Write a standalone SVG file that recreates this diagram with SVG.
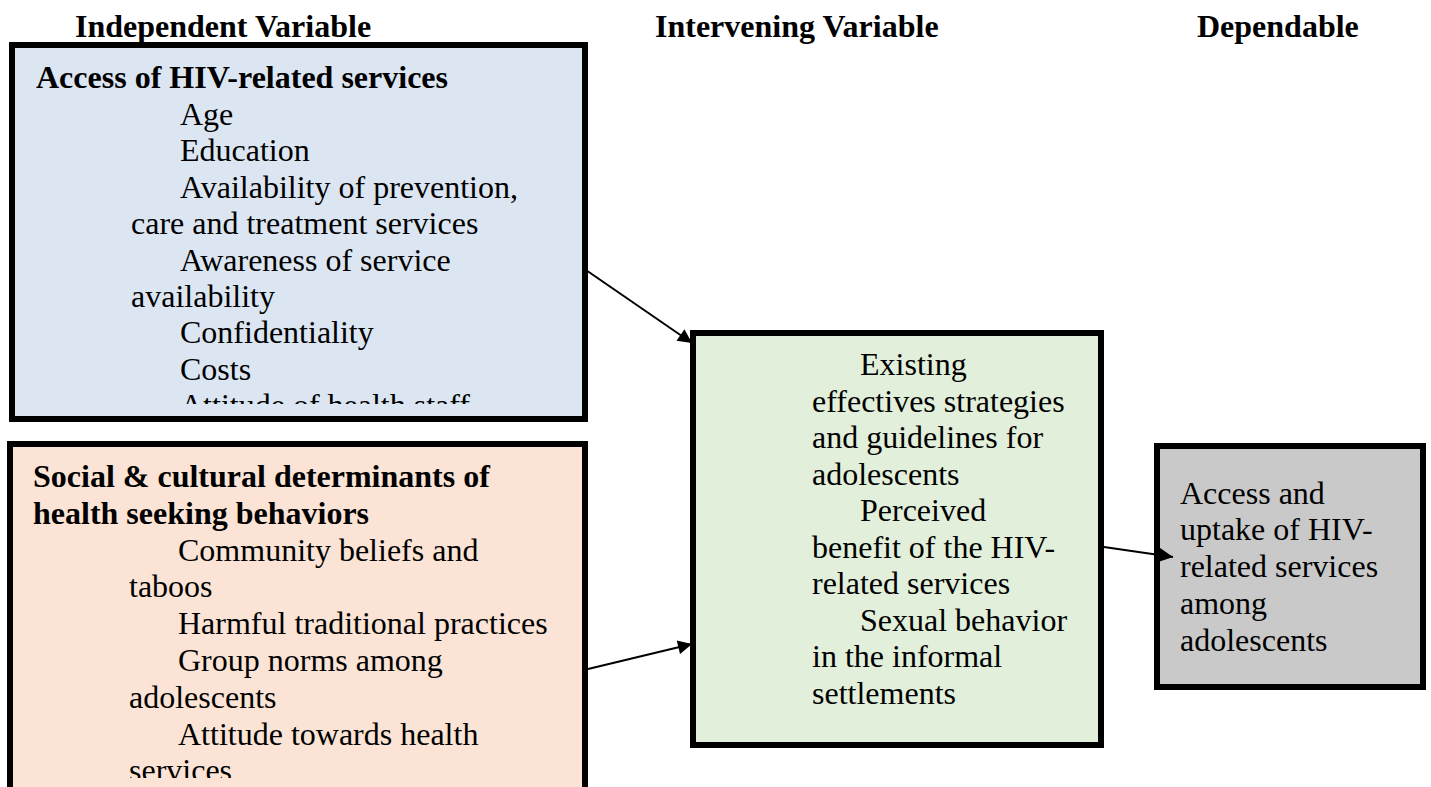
<svg xmlns="http://www.w3.org/2000/svg" width="1431" height="787" viewBox="0 0 1431 787">
  <style>
    text { font-family: "Liberation Serif", "Times New Roman", serif; font-size: 32px; fill: #000; }
    .b { font-weight: bold; }
    .box { stroke: #000; stroke-width: 6; }
    .wire { stroke: #000; stroke-width: 2; fill: none; marker-end: url(#arrow); }
  </style>
  <defs>
    <marker id="arrow" viewBox="0 0 10 10" refX="10" refY="5" markerWidth="8" markerHeight="7" markerUnits="strokeWidth" orient="auto">
      <path d="M0,0 L10,5 L0,10 z" fill="#000"/>
    </marker>
    <clipPath id="clipAccess"><rect x="15" y="48" width="567" height="356"/></clipPath>
    <clipPath id="clipSocial"><rect x="13" y="447" width="569" height="331"/></clipPath>
  </defs>

  <!-- column headings -->
  <g id="headings">
    <text class="b" x="75" y="37">Independent Variable</text>
    <text class="b" x="655" y="37">Intervening Variable</text>
    <text class="b" x="1197" y="37">Dependable</text>
  </g>

  <!-- independent variable: access -->
  <g id="access">
    <rect class="box" x="12" y="45" width="573" height="374" fill="#dce6f2"/>
    <g clip-path="url(#clipAccess)">
      <text class="b" x="36" y="88">Access of HIV-related services</text>
      <text x="180" y="125">Age</text>
      <text x="180" y="161.4">Education</text>
      <text x="180" y="197.8">Availability of prevention,</text>
      <text x="131" y="234.2">care and treatment services</text>
      <text x="180" y="270.6">Awareness of service</text>
      <text x="131" y="307">availability</text>
      <text x="180" y="343.4">Confidentiality</text>
      <text x="180" y="379.8">Costs</text>
      <text x="180" y="416.2">Attitude of health staff</text>
    </g>
  </g>

  <!-- independent variable: social and cultural -->
  <g id="social">
    <rect class="box" x="10" y="444" width="575" height="360" fill="#fbe4d5"/>
    <g clip-path="url(#clipSocial)">
      <text class="b" x="33" y="487">Social &amp; cultural determinants of</text>
      <text class="b" x="33" y="523.8">health seeking behaviors</text>
      <text x="178" y="560.6">Community beliefs and</text>
      <text x="129" y="597.4">taboos</text>
      <text x="178" y="634.2">Harmful traditional practices</text>
      <text x="178" y="671">Group norms among</text>
      <text x="129" y="707.8">adolescents</text>
      <text x="178" y="744.6">Attitude towards health</text>
      <text x="129" y="781.4">services</text>
    </g>
  </g>

  <!-- intervening variable -->
  <g id="intervening">
    <rect class="box" x="693" y="333" width="408" height="412" fill="#e2efda"/>
    <text x="860" y="375">Existing</text>
    <text x="812" y="411.5">effectives strategies</text>
    <text x="812" y="448">and guidelines for</text>
    <text x="812" y="484.5">adolescents</text>
    <text x="860" y="521">Perceived</text>
    <text x="812" y="557.5">benefit of the HIV-</text>
    <text x="812" y="594">related services</text>
    <text x="860" y="630.5">Sexual behavior</text>
    <text x="812" y="667">in the informal</text>
    <text x="812" y="703.5">settlements</text>
  </g>

  <!-- dependent variable -->
  <g id="outcome">
    <rect class="box" x="1157" y="446" width="266" height="241" fill="#c9c9c9"/>
    <text x="1180" y="503.5">Access and</text>
    <text x="1180" y="540.3">uptake of HIV-</text>
    <text x="1180" y="577.1">related services</text>
    <text x="1180" y="613.9">among</text>
    <text x="1180" y="650.7">adolescents</text>
  </g>

  <!-- connectors -->
  <g id="connectors">
    <path class="wire" d="M583,268 L692,343"/>
    <path class="wire" d="M588,669 L692,644"/>
    <path class="wire" d="M1104,547 L1173,557"/>
  </g>
</svg>
